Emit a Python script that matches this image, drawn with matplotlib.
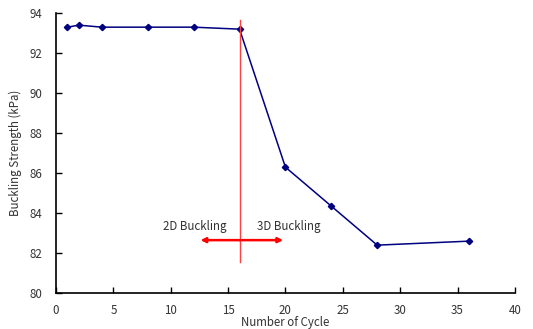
import matplotlib
matplotlib.use("Agg")
import matplotlib.pyplot as plt

plt.rcParams['font.family'] = ['Noto Sans CJK KR', 'DejaVu Sans']

# data
cycles = [1, 2, 4, 8, 12, 16, 20, 24, 28, 36]
strength = [93.3, 93.4, 93.3, 93.3, 93.3, 93.2, 86.3, 84.35, 82.4, 82.6]
x_ticks = [0, 5, 10, 15, 20, 25, 30, 35, 40]
y_ticks = [80, 82, 84, 86, 88, 90, 92, 94]

boundary_x = 16
arrow_y = 82.65
arrow_left = 12.6
arrow_right = 19.8

fig = plt.figure(figsize=(5.33, 3.29), dpi=100)
ax = fig.add_axes([0.105, 0.109, 0.861, 0.851])

ax.plot(cycles, strength, color='#000080', lw=1.1, marker='D', ms=3.2,
        markeredgecolor='#000080', markerfacecolor='#000080')

# transition line and arrows
ax.plot([boundary_x, boundary_x], [81.55, 93.65], color='#ff4040', lw=1.0)
ax.annotate('', xy=(arrow_left, arrow_y), xytext=(boundary_x, arrow_y),
            arrowprops=dict(arrowstyle='-|>', color='red', lw=1.8,
                            mutation_scale=7, shrinkA=0, shrinkB=0))
ax.annotate('', xy=(arrow_right, arrow_y), xytext=(boundary_x, arrow_y),
            arrowprops=dict(arrowstyle='-|>', color='red', lw=1.8,
                            mutation_scale=7, shrinkA=0, shrinkB=0))
ax.text(12.1, 83.35, '2D Buckling', ha='center', va='center', fontsize=8.3, color='#333333')
ax.text(20.3, 83.35, '3D Buckling', ha='center', va='center', fontsize=8.3, color='#333333')

ax.set_xlim(0, 40)
ax.set_ylim(80, 94)
ax.set_xticks(x_ticks)
ax.set_yticks(y_ticks)
ax.tick_params(direction='in', length=4, width=1, labelsize=8.3, labelcolor='#333333')
ax.tick_params(axis='x', pad=8)
ax.tick_params(axis='y', pad=10)
for s in ['top', 'right']:
    ax.spines[s].set_visible(False)
for s in ['left', 'bottom']:
    ax.spines[s].set_linewidth(1.2)

ax.set_xlabel('Number of Cycle', fontsize=8.3, color='#333333', labelpad=-1)
ax.set_ylabel('Buckling Strength (kPa)', fontsize=8.3, color='#333333', labelpad=5)

fig.savefig('out.png', dpi=100)
